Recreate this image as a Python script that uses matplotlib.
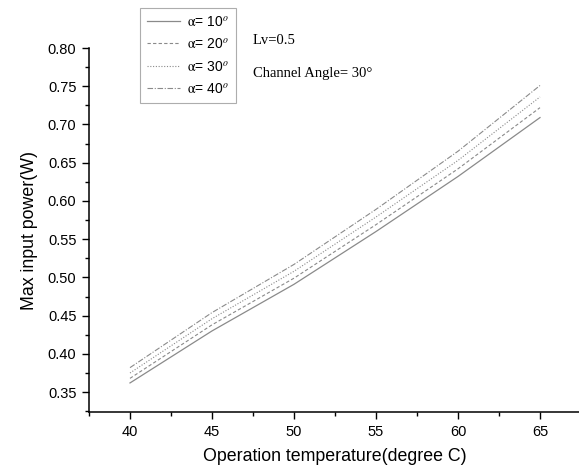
import matplotlib
matplotlib.use("Agg")
import matplotlib.pyplot as plt
from matplotlib.ticker import MultipleLocator, FormatStrFormatter

# Operating temperature (degree C)
temperature = [40, 45, 50, 55, 60, 65]

# Max input power (W) for each alpha angle
power_a10 = [0.362, 0.430, 0.491, 0.560, 0.632, 0.709]
power_a20 = [0.368, 0.438, 0.499, 0.569, 0.642, 0.722]
power_a30 = [0.375, 0.446, 0.508, 0.579, 0.653, 0.736]
power_a40 = [0.382, 0.454, 0.517, 0.589, 0.665, 0.751]

labels = [r"$\mathrm{\alpha}$= 10$^{o}$", r"$\mathrm{\alpha}$= 20$^{o}$",
          r"$\mathrm{\alpha}$= 30$^{o}$", r"$\mathrm{\alpha}$= 40$^{o}$"]

plt.rcParams["font.family"] = ["Liberation Sans", "DejaVu Sans"]
plt.rcParams["mathtext.fontset"] = "stix"

fig = plt.figure(figsize=(5.79, 4.70), dpi=100)
ax = fig.add_axes([89 / 579, 1 - 412 / 470, 492 / 579, (412 - 48) / 470])

gray = "#8a8a8a"
ax.plot(temperature, power_a10, color=gray, lw=0.9, ls="-", label=labels[0])
ax.plot(temperature, power_a20, color=gray, lw=0.8, ls=(0, (3, 2)), label=labels[1])
ax.plot(temperature, power_a30, color=gray, lw=0.8, ls=(0, (1, 1.5)), label=labels[2])
ax.plot(temperature, power_a40, color=gray, lw=0.8, ls=(0, (5, 1.5, 1, 1.5)), label=labels[3])

ax.set_xlim(37.5, 67.5)
ax.set_ylim(0.324, 0.80)
ax.xaxis.set_major_locator(MultipleLocator(5))
ax.xaxis.set_minor_locator(MultipleLocator(2.5))
ax.yaxis.set_major_locator(MultipleLocator(0.05))
ax.yaxis.set_minor_locator(MultipleLocator(0.025))
ax.yaxis.set_major_formatter(FormatStrFormatter("%.2f"))

for side in ("top", "right"):
    ax.spines[side].set_visible(False)
for side in ("left", "bottom"):
    ax.spines[side].set_linewidth(1.1)

ax.tick_params(which="major", direction="out", length=5, width=1.0, labelsize=10.5, pad=4)
ax.tick_params(which="minor", direction="out", length=3, width=1.0)

ax.set_xlabel("Operation temperature(degree C)", fontsize=12.8, labelpad=7)
ax.set_ylabel("Max input power(W)", fontsize=12.8, labelpad=7)

leg = ax.legend(loc="upper left", bbox_to_anchor=(140 / 579, 1 - 8 / 470),
                bbox_transform=fig.transFigure, frameon=True, fancybox=False,
                fontsize=10, handlelength=2.4, handletextpad=0.5,
                labelspacing=0.6, borderpad=0.5, borderaxespad=0)
leg.get_frame().set_edgecolor("#999999")
leg.get_frame().set_linewidth(0.8)

serif = ["Liberation Serif", "DejaVu Serif"]
fig.text(253 / 579, 1 - 40 / 470, "Lv=0.5", fontsize=10.5,
         family=serif, va="center", ha="left")
fig.text(253 / 579, 1 - 73 / 470, "Channel Angle= 30\u00b0", fontsize=10.5,
         family=serif, va="center", ha="left")

fig.savefig("out.png", dpi=100)
